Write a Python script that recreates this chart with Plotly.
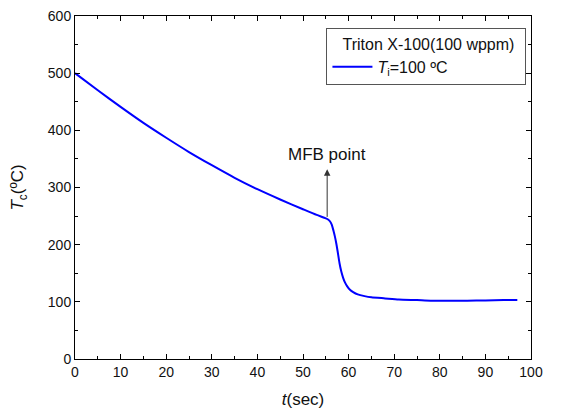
import plotly.graph_objects as go

# readings
t_sec = [0, 5, 10, 15, 20, 25, 30, 35, 40, 45, 50, 53, 55, 55.5, 55.9, 56.3, 56.7, 57.0, 57.3, 57.6, 58.0, 58.4, 58.8, 59.2, 59.7, 60.3, 61, 62, 63.5, 65, 68, 71, 75, 78, 82, 86, 90, 94, 97]
t_c = [500, 470, 441, 413, 387, 362, 339, 317, 297, 279, 262, 252, 246, 244, 241, 235, 224, 214, 202, 188, 168, 153, 142, 134, 127, 121, 117, 113, 110, 108, 106, 104, 103, 102, 102, 102, 102.5, 103, 103]

font = "Liberation Sans, Arial, sans-serif"

fig = go.Figure()
fig.add_trace(go.Scatter(x=t_sec, y=t_c, mode="lines", line=dict(color="#0000ff", width=2, shape="spline", smoothing=0.6),
                         name="<i>T</i><sub>i</sub>=100 ºC"))

fig.add_annotation(x=55.3, y=332, ax=55.3, ay=246, xref="x", yref="y", axref="x", ayref="y",
                   text="", showarrow=True, arrowhead=2, arrowsize=1.3, arrowwidth=1, arrowcolor="#333")
fig.add_annotation(x=55.3, y=357, text="MFB point", showarrow=False, font=dict(size=17, color="#111", family=font))

axis_common = dict(showline=True, linecolor="black", linewidth=1, mirror="allticks", ticks="inside",
                   ticklen=5, tickcolor="black", showgrid=False, zeroline=False, automargin=False,
                   ticklabeloverflow="allow", tickfont=dict(size=14, color="#111", family=font))
fig.update_xaxes(range=[0, 100], dtick=10, title=dict(text="<i>t</i>(sec)", font=dict(size=17, family=font), standoff=14),
                 minor=dict(ticks="inside", ticklen=3, dtick=5, tickcolor="black"), **axis_common)
fig.update_yaxes(range=[0, 600], dtick=100, title=dict(text="<i>T</i><sub>c</sub>(ºC)", font=dict(size=17, family=font), standoff=23),
                 minor=dict(ticks="inside", ticklen=3, dtick=50, tickcolor="black"), **axis_common)

# page body adds an offset, so the figure is sized a little smaller than the window
fig.update_layout(width=556, height=404, margin=dict(l=67, r=33, t=8, b=53),
                  plot_bgcolor="white", paper_bgcolor="white", font=dict(family=font, color="#111"),
                  showlegend=True,
                  legend=dict(x=0.99, y=0.965, xanchor="right", yanchor="top", bordercolor="#555", borderwidth=1,
                              bgcolor="white", font=dict(size=16, family=font), itemwidth=40,
                              title=dict(text="   Triton X-100(100 wppm)&nbsp;&nbsp;", font=dict(size=16, family=font))))

fig.write_html("out.html")
